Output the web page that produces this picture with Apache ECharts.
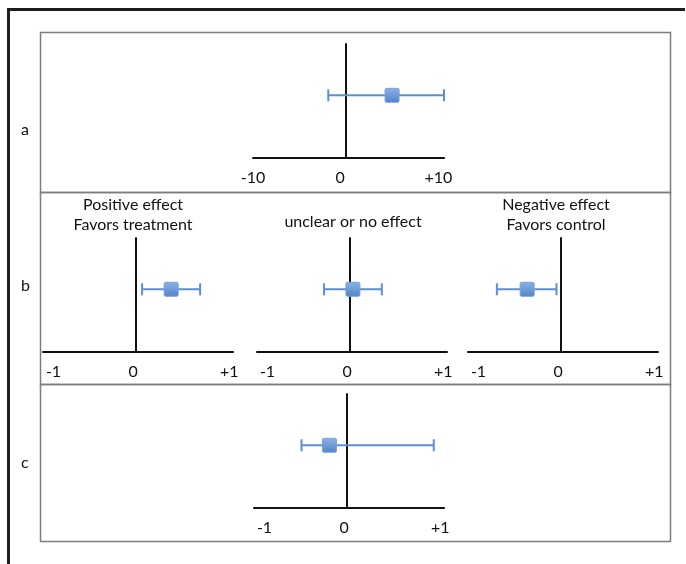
<!DOCTYPE html>
<html>
<head>
<meta charset="utf-8">
<script src="https://cdn.jsdelivr.net/npm/echarts@6/dist/echarts.min.js"></script>
<style>
  html, body { margin: 0; padding: 0; background: #fff; }
  #chart { width: 686px; height: 564px; }
</style>
</head>
<body>
<div id="chart"></div>
<script>
// data
var panelNames = ['a', 'b1', 'b2', 'b3', 'c'];
var estimates = [5.0, 0.376, 0.03, -0.365, -0.19];
var lowerCI = [-1.88, 0.064, -0.28, -0.69, -0.49];
var upperCI = [10.6, 0.687, 0.34, -0.05, 0.93];
var axisMin = [-10, -1, -1, -1, -1];
var axisMax = [10.6, 1.04, 1.04, 1.04, 1.04];
var tickValues = [[-10, 0, 10], [-1, 0, 1], [-1, 0, 1], [-1, 0, 1], [-1, 0, 1]];
var panelLabels = ['a', 'b', 'c'];
var effectTitles = ['Positive effect\nFavors treatment', 'unclear or no effect', 'Negative effect\nFavors control'];

// layout of the five small plots
var gridBoxes = [
    { left: 253, top: 44, width: 191, height: 114 },
    { left: 43, top: 238, width: 190, height: 114 },
    { left: 257, top: 238, width: 190, height: 114 },
    { left: 468, top: 238, width: 190, height: 114 },
    { left: 254, top: 394, width: 190, height: 114 }
];
var rowY = 0.55;

var font = 'Lato, "Open Sans", sans-serif';
var blue = '#5b8fd1';

var myChart = echarts.init(document.getElementById('chart'), null, { renderer: 'canvas' });

var grids = [], xAxes = [], yAxes = [], series = [];
for (var i = 0; i < panelNames.length; i++) {
    grids.push(gridBoxes[i]);
    (function (idx) {
        var ticks = tickValues[idx];
        xAxes.push({
            type: 'value',
            gridIndex: idx,
            min: axisMin[idx],
            max: axisMax[idx],
            splitLine: { show: false },
            axisTick: { show: false },
            axisLine: { onZero: true, lineStyle: { color: '#111', width: 2 } },
            axisLabel: {
                customValues: ticks,
                margin: 12,
                color: '#111',
                fontSize: 16,
                fontFamily: font,
                formatter: function (v) {
                    var txt = v > 0 ? '+' + v : String(v);
                    if (v === 0) return '{z|' + txt + '}';
                    if (v < 0 && idx > 0) return '{l|' + txt + '}';
                    return txt;
                },
                rich: {
                    z: { fontSize: 16, fontFamily: font, color: '#111', padding: [0, idx === 0 ? 11 : 6, 0, 0] },
                    l: { fontSize: 16, fontFamily: font, color: '#111', padding: [0, 0, 0, 21] }
                }
            }
        });
        yAxes.push({
            type: 'value',
            gridIndex: idx,
            min: 0,
            max: 1,
            splitLine: { show: false },
            axisTick: { show: false },
            axisLabel: { show: false },
            axisLine: { show: true, onZero: true, lineStyle: { color: '#111', width: 2 } }
        });
        series.push({
            type: 'custom',
            xAxisIndex: idx,
            yAxisIndex: idx,
            data: [[lowerCI[idx], estimates[idx], upperCI[idx], rowY]],
            renderItem: function (params, api) {
                var y = api.value(3);
                var p0 = api.coord([api.value(0), y]);
                var pm = api.coord([api.value(1), y]);
                var p1 = api.coord([api.value(2), y]);
                var lineStyle = { stroke: blue, lineWidth: 2 };
                return {
                    type: 'group',
                    children: [
                        { type: 'line', shape: { x1: p0[0], y1: p0[1], x2: p1[0], y2: p1[1] }, style: lineStyle },
                        { type: 'line', shape: { x1: p0[0], y1: p0[1] - 6, x2: p0[0], y2: p0[1] + 6 }, style: lineStyle },
                        { type: 'line', shape: { x1: p1[0], y1: p1[1] - 6, x2: p1[0], y2: p1[1] + 6 }, style: lineStyle },
                        {
                            type: 'rect',
                            shape: { x: pm[0] - 7, y: pm[1] - 7, width: 14, height: 14, r: 1.5 },
                            style: {
                                fill: new echarts.graphic.LinearGradient(0, 0, 0, 1, [
                                    { offset: 0, color: '#8fb3e4' },
                                    { offset: 1, color: '#4f83c9' }
                                ]),
                                stroke: '#7aa0d6',
                                lineWidth: 1
                            }
                        }
                    ]
                };
            }
        });
    })(i);
}

var titles = [
    { text: panelLabels[0], left: 21, top: 120 },
    { text: panelLabels[1], left: 21, top: 276 },
    { text: panelLabels[2], left: 21, top: 453 },
    { text: effectTitles[0], left: 133, top: 195, textAlign: 'center' },
    { text: effectTitles[1], left: 353, top: 212, textAlign: 'center' },
    { text: effectTitles[2], left: 556, top: 195, textAlign: 'center' }
];
for (var t = 0; t < titles.length; t++) {
    titles[t].padding = 0;
    titles[t].textStyle = { color: '#111', fontSize: 16, fontWeight: 'normal', fontFamily: font, lineHeight: 20 };
}

var option = {
    animation: false,
    backgroundColor: '#fff',
    title: titles,
    grid: grids,
    xAxis: xAxes,
    yAxis: yAxes,
    series: series,
    graphic: [
        // panel boxes
        { type: 'rect', shape: { x: 40.5, y: 32.5, width: 630, height: 160 }, style: { fill: 'none', stroke: '#7c7c7c', lineWidth: 1.5 }, z: -1 },
        { type: 'rect', shape: { x: 40.5, y: 192.5, width: 630, height: 192 }, style: { fill: 'none', stroke: '#7c7c7c', lineWidth: 1.5 }, z: -1 },
        { type: 'rect', shape: { x: 40.5, y: 384.5, width: 630, height: 157 }, style: { fill: 'none', stroke: '#7c7c7c', lineWidth: 1.5 }, z: -1 },
        // outer frame
        { type: 'polyline', shape: { points: [[8.5, 564], [8.5, 9.5], [685, 9.5]] }, style: { fill: 'none', stroke: '#1e1e1e', lineWidth: 3 } }
    ]
};

myChart.setOption(option);
</script>
</body>
</html>
